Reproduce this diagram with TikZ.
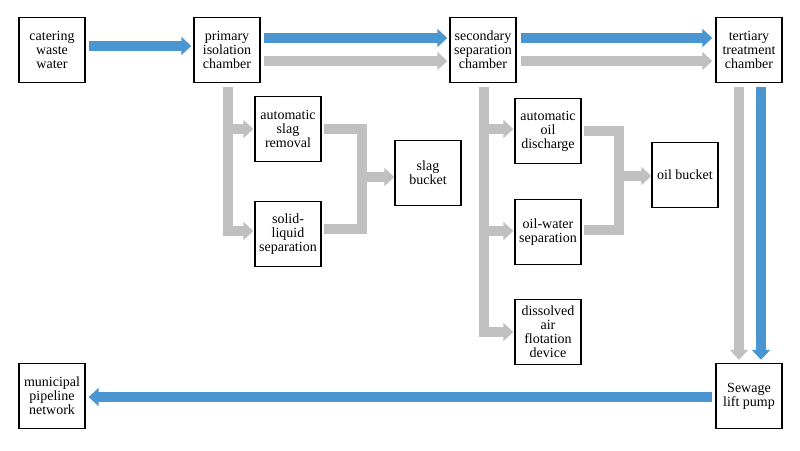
\documentclass[tikz,border=0pt]{standalone}
\usepackage{fontspec}
\setmainfont{Liberation Serif}
\usetikzlibrary{arrows.meta}
\definecolor{flowblue}{RGB}{74,150,209}
\definecolor{flowgray}{RGB}{192,192,192}
\begin{document}
\begin{tikzpicture}[x=1pt,y=-1pt,
  box/.style={draw, line width=1.4pt, minimum width=66pt, minimum height=65pt, inner sep=0pt, align=center, font=\fontsize{14}{14}\selectfont},
  flow/.style={line width=10pt, line join=miter},
  tipped/.style={-{Triangle[width=18pt,length=10pt]}}]
\useasboundingbox[fill=white] (0,0) rectangle (800,450);
\node[box] (cat) at (52,50) {catering\\waste\\water};
\node[box] (pri) at (227,50) {primary\\isolation\\chamber};
\node[box] (sec) at (483,50) {secondary\\separation\\chamber};
\node[box] (ter) at (749,50) {tertiary\\treatment\\chamber};
\node[box] (asr) at (288,129) {automatic\\slag\\removal};
\node[box] (slq) at (288,234) {solid-\\liquid\\separation};
\node[box] (sbk) at (428,173) {slag\\bucket};
\node[box] (aod) at (548,131) {automatic\\oil\\discharge};
\node[box] (ows) at (548,232) {oil-water\\separation};
\node[box] (obk) at (685,175) {oil bucket};
\node[box] (daf) at (548,332) {dissolved\\air\\flotation\\device};
\node[box] (pump) at (749,396) {Sewage\\lift pump};
\node[box] (mun) at (52,396) {municipal\\pipeline\\network};
\coordinate (ms) at (362,177);
\coordinate (mo) at (619,176);
% top row
\draw[flow,flowblue,tipped] ([xshift=3pt,yshift=4pt]cat.east) -- ([xshift=-2pt,yshift=4pt]pri.west);
\draw[flow,flowblue,tipped] ([xshift=3pt,yshift=12pt]pri.east) -- ([xshift=-2pt,yshift=12pt]sec.west);
\draw[flow,flowgray,tipped] ([xshift=3pt,yshift=-11pt]pri.east) -- ([xshift=-2pt,yshift=-11pt]sec.west);
\draw[flow,flowblue,tipped] ([xshift=4pt,yshift=12pt]sec.east) -- ([xshift=-3pt,yshift=12pt]ter.west);
\draw[flow,flowgray,tipped] ([xshift=4pt,yshift=-11pt]sec.east) -- ([xshift=-3pt,yshift=-11pt]ter.west);
% primary branches
\draw[flow,flowgray,tipped] ([xshift=1pt,yshift=-4pt]pri.south) |- ([xshift=-1pt,yshift=3pt]slq.west);
\draw[flow,flowgray,tipped] ([xshift=1pt,yshift=-4pt]pri.south) |- ([xshift=-1pt]asr.west);
\draw[flow,flowgray] ([xshift=2pt]asr.east) -| (ms);
\draw[flow,flowgray] ([xshift=2pt,yshift=5pt]slq.east) -| (ms);
\draw[flow,flowgray,tipped] (ms) -- (sbk.west |- ms);
% secondary branches
\draw[flow,flowgray,tipped] ([xshift=1pt,yshift=-4pt]sec.south) |- ([xshift=-1pt]daf.west);
\draw[flow,flowgray,tipped] ([xshift=1pt,yshift=-4pt]sec.south) |- ([xshift=-1pt,yshift=1pt]ows.west);
\draw[flow,flowgray,tipped] ([xshift=1pt,yshift=-4pt]sec.south) |- ([xshift=-1pt,yshift=2pt]aod.west);
\draw[flow,flowgray] ([xshift=2pt]aod.east) -| (mo);
\draw[flow,flowgray] ([xshift=2pt,yshift=2pt]ows.east) -| (mo);
\draw[flow,flowgray,tipped] (mo) -- (obk.west |- mo);
% tertiary down
\draw[flow,flowgray,tipped] ([xshift=-10pt,yshift=-4pt]ter.south) -- ([xshift=-10pt,yshift=3pt]pump.north);
\draw[flow,flowblue,tipped] ([xshift=12pt,yshift=-4pt]ter.south) -- ([xshift=12pt,yshift=3pt]pump.north);
% bottom
\draw[flow,flowblue,tipped] ([xshift=-3pt,yshift=-1pt]pump.west) -- ([xshift=3pt,yshift=-1pt]mun.east);
\end{tikzpicture}
\end{document}
